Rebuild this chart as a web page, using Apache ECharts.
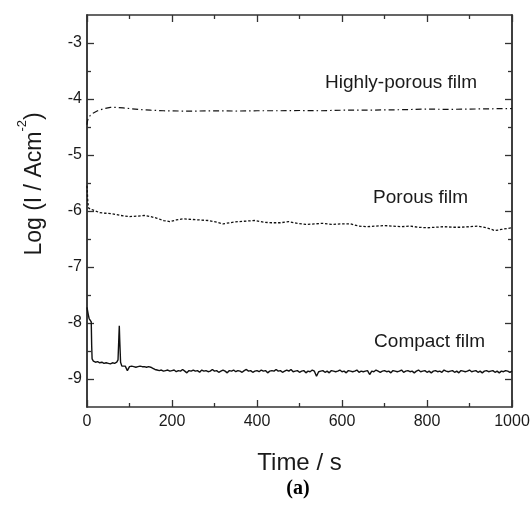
<!DOCTYPE html>
<html>
<head>
<meta charset="utf-8">
<script src="https://cdn.jsdelivr.net/npm/echarts@6/dist/echarts.min.js"></script>
<style>
  html, body { margin: 0; padding: 0; background: #fff; }
  #chart { width: 531px; height: 506px; }
</style>
</head>
<body>
<div id="chart"></div>
<script>
// Current transients, log(I / A cm^-2) versus time (s)

// Highly-porous film
const highlyTime = [0, 1, 3, 8, 15, 25, 40, 55, 70, 85, 100, 125, 150, 180, 220, 260, 300, 350, 400, 450, 500, 550, 600, 650, 700, 750, 800, 850, 900, 950, 1000];
const highlyValue = [-4.46, -4.40, -4.34, -4.29, -4.25, -4.21, -4.17, -4.15, -4.15, -4.16, -4.17, -4.19, -4.20, -4.21, -4.215, -4.215, -4.21, -4.215, -4.21, -4.21, -4.205, -4.21, -4.20, -4.20, -4.195, -4.19, -4.18, -4.185, -4.18, -4.175, -4.17];

// Porous film
const porousTime = [0, 2, 4, 10, 20, 30, 45, 60, 80, 100, 120, 135, 150, 165, 180, 195, 210, 225, 245, 265, 285, 305, 320, 335, 355, 375, 395, 415, 435, 455, 475, 495, 515, 535, 555, 575, 600, 620, 640, 660, 680, 700, 720, 740, 760, 780, 800, 820, 840, 860, 880, 900, 920, 940, 960, 975, 990, 1000];
const porousValue = [-5.55, -5.85, -5.95, -5.97, -6.00, -6.03, -6.04, -6.05, -6.08, -6.10, -6.09, -6.08, -6.10, -6.13, -6.17, -6.19, -6.16, -6.14, -6.15, -6.16, -6.17, -6.20, -6.23, -6.21, -6.19, -6.18, -6.17, -6.20, -6.21, -6.21, -6.19, -6.22, -6.24, -6.23, -6.22, -6.24, -6.23, -6.23, -6.27, -6.28, -6.27, -6.26, -6.27, -6.28, -6.27, -6.29, -6.30, -6.29, -6.28, -6.29, -6.29, -6.28, -6.27, -6.30, -6.35, -6.33, -6.31, -6.30];

// Compact film: first 100 s (initial decay and the spike near 76 s)
const compactEarlyTime = [0, 1, 3, 5, 8, 10, 11, 12, 15, 20, 25, 30, 35, 40, 45, 50, 55, 60, 65, 70, 73, 75, 76, 77, 79, 82, 85, 90, 95];
const compactEarlyValue = [-7.72, -7.74, -7.85, -7.92, -7.95, -7.98, -8.40, -8.64, -8.68, -8.70, -8.69, -8.71, -8.70, -8.72, -8.71, -8.72, -8.73, -8.71, -8.72, -8.70, -8.66, -8.25, -8.05, -8.30, -8.70, -8.77, -8.76, -8.77, -8.85];
// Compact film: record from 100 s to 1000 s, sampled every 5 s
const compactStart = 100;
const compactStep = 5;
const compactValue = [
  -8.78, -8.77, -8.78, -8.79, -8.78, -8.77, -8.78, -8.78, -8.79, -8.78, -8.79,
  -8.81, -8.83, -8.84, -8.85, -8.84, -8.86, -8.85, -8.84, -8.86, -8.85,
  -8.84, -8.87, -8.85, -8.86, -8.83, -8.86, -8.89, -8.85, -8.86, -8.84,
  -8.86, -8.85, -8.88, -8.84, -8.86, -8.85, -8.87, -8.86, -8.83, -8.86,
  -8.85, -8.88, -8.86, -8.84, -8.86, -8.89, -8.85, -8.86, -8.84, -8.87,
  -8.85, -8.86, -8.88, -8.85, -8.83, -8.86, -8.85, -8.88, -8.86, -8.85,
  -8.87, -8.84, -8.86, -8.85, -8.89, -8.86, -8.85, -8.86, -8.83, -8.86,
  -8.85, -8.88, -8.86, -8.84, -8.86, -8.83, -8.87, -8.86, -8.85, -8.88,
  -8.86, -8.85, -8.89, -8.86, -8.87, -8.84, -8.86, -8.95, -8.87, -8.86,
  -8.85, -8.88, -8.86, -8.89, -8.85, -8.86, -8.87, -8.86, -8.84, -8.87,
  -8.86, -8.89, -8.85, -8.86, -8.87, -8.86, -8.84, -8.88, -8.86, -8.87,
  -8.86, -8.85, -8.92, -8.86, -8.87, -8.84, -8.86, -8.88, -8.86, -8.85,
  -8.87, -8.86, -8.89, -8.85, -8.86, -8.87, -8.86, -8.84, -8.88, -8.86,
  -8.85, -8.87, -8.86, -8.89, -8.86, -8.84, -8.87, -8.86, -8.85, -8.88,
  -8.86, -8.89, -8.86, -8.85, -8.87, -8.86, -8.88, -8.84, -8.86, -8.87,
  -8.86, -8.85, -8.88, -8.86, -8.89, -8.85, -8.86, -8.87, -8.86, -8.84,
  -8.87, -8.86, -8.85, -8.88, -8.86, -8.89, -8.86, -8.85, -8.87, -8.86,
  -8.85, -8.88, -8.86, -8.89, -8.86, -8.87, -8.85, -8.86, -8.88, -8.86
];

// Axis ticks
const xMin = 0, xMax = 1000, xInterval = 200;
const yMin = -9.5, yMax = -2.5;
const yMajorTicks = [-9, -8, -7, -6, -5, -4, -3];
const yMinorTicks = [-8.5, -7.5, -6.5, -5.5, -4.5, -3.5];

// Curve labels: [text, time, log I]
const curveLabels = [
  ['Highly-porous film', 739, -3.71],
  ['Porous film', 785, -5.76],
  ['Compact film', 806, -8.33]
];

const xTitle = 'Time / s';
const panelTag = '(a)';

function pairs(ts, vs) { return ts.map((t, i) => [t, vs[i]]); }

const compactData = pairs(compactEarlyTime, compactEarlyValue)
  .concat(compactValue.map((v, i) => [compactStart + i * compactStep, v]));

const FONT = '"Liberation Sans", Arial, sans-serif';
const INK = '#1a1a1a';
const AXIS = '#333';

function labelPoint(entry) {
  return {
    silent: true,
    symbol: 'circle',
    symbolSize: 0,
    label: {
      show: true, position: 'inside', formatter: entry[0],
      color: INK, fontFamily: FONT, fontSize: 19
    },
    data: [{ coord: [entry[1], entry[2]] }]
  };
}

function xAx(pos, withLabels) {
  return {
    type: 'value', position: pos, min: xMin, max: xMax, interval: xInterval,
    axisLine: { show: true, onZero: false, lineStyle: { color: AXIS, width: 1.5 } },
    axisTick: { show: true, inside: true, length: 7, lineStyle: { color: AXIS, width: 1.3 } },
    minorTick: { show: true, splitNumber: 2, length: 4, lineStyle: { color: AXIS, width: 1.3 } },
    splitLine: { show: false },
    axisLabel: {
      show: withLabels, margin: 7, color: INK, fontFamily: FONT, fontSize: 16,
      formatter: (v) => String(v)
    },
    name: withLabels ? xTitle : '',
    nameLocation: 'middle', nameGap: 44,
    nameTextStyle: { color: INK, fontFamily: FONT, fontSize: 24 }
  };
}

function yAx(pos, ticks, len, withLabels) {
  return {
    type: 'value', position: pos, min: yMin, max: yMax,
    axisLine: { show: true, onZero: false, lineStyle: { color: AXIS, width: 1.5 } },
    axisTick: { show: true, inside: true, length: len, customValues: ticks, lineStyle: { color: AXIS, width: 1.3 } },
    splitLine: { show: false },
    axisLabel: {
      show: withLabels, customValues: yMajorTicks, margin: 5, color: INK, fontFamily: FONT, fontSize: 16,
      formatter: (v) => String(v)
    }
  };
}

const chart = echarts.init(document.getElementById('chart'), null, { renderer: 'canvas' });
chart.setOption({
  animation: false,
  backgroundColor: '#fff',
  grid: { left: 87, right: 19, top: 15, bottom: 99, outerBoundsMode: 'none' },
  xAxis: [xAx('bottom', true), xAx('top', false)],
  yAxis: [
    yAx('left', yMajorTicks, 7, true),
    yAx('left', yMinorTicks, 4, false),
    yAx('right', yMajorTicks, 7, false),
    yAx('right', yMinorTicks, 4, false)
  ],
  series: [
    {
      name: 'Highly-porous film', type: 'line', showSymbol: false, symbol: 'none',
      data: pairs(highlyTime, highlyValue),
      lineStyle: { color: '#111', width: 1.2, type: [6, 3, 1.5, 3] },
      markPoint: labelPoint(curveLabels[0])
    },
    {
      name: 'Porous film', type: 'line', showSymbol: false, symbol: 'none',
      data: pairs(porousTime, porousValue),
      lineStyle: { color: '#111', width: 1.3, type: [2.5, 1.8] },
      markPoint: labelPoint(curveLabels[1])
    },
    {
      name: 'Compact film', type: 'line', showSymbol: false, symbol: 'none',
      data: compactData,
      lineStyle: { color: '#111', width: 1.4 },
      markPoint: labelPoint(curveLabels[2])
    }
  ],
  graphic: [
    {
      type: 'text', x: 31, y: 184, rotation: Math.PI / 2, silent: true,
      style: {
        text: '{m|Log (I / Acm}{s|-2}{m|)}',
        align: 'center', verticalAlign: 'middle',
        rich: {
          m: { fontFamily: FONT, fontSize: 23, fill: INK, lineHeight: 30, verticalAlign: 'bottom' },
          s: { fontFamily: FONT, fontSize: 13, fill: INK, lineHeight: 16, verticalAlign: 'top' }
        }
      }
    },
    {
      type: 'text', x: 298, y: 489, silent: true,
      style: {
        text: panelTag, align: 'center', verticalAlign: 'middle',
        font: 'bold 20px "Liberation Serif", "Times New Roman", serif', fill: '#000'
      }
    }
  ]
});
</script>
</body>
</html>
